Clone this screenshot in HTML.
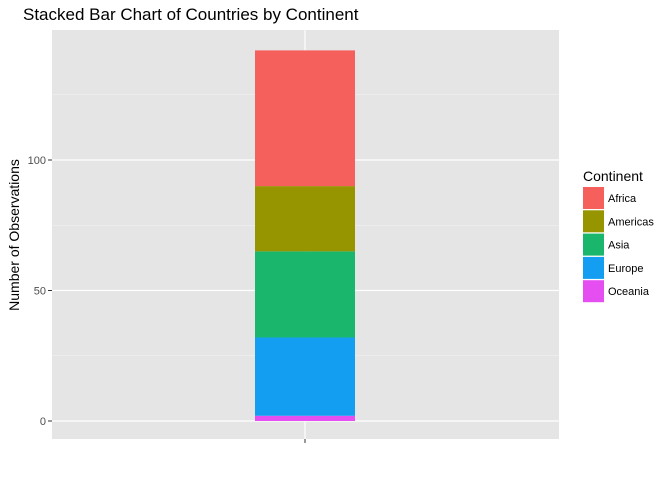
<!DOCTYPE html>
<html><head><meta charset="utf-8"><style>
body{margin:0;background:#fff;font-family:"Liberation Sans",sans-serif;}
</style></head><body>
<svg id="c" width="672" height="480" xmlns="http://www.w3.org/2000/svg" font-family="Liberation Sans, sans-serif">
<text x="23" y="20" font-size="17" fill="#000">Stacked Bar Chart of Countries by Continent</text>
<rect x="52" y="30" width="507" height="409" fill="#e5e5e5"/>
<g id="grid"></g>
<g id="bars"></g>
<g id="axes"></g>
<text transform="translate(19,235) rotate(-90)" text-anchor="middle" font-size="14">Number of Observations</text>
<text x="583" y="181" font-size="14">Continent</text>
<g id="legend"></g>
</svg>
<script>
const categories=["Oceania","Europe","Asia","Americas","Africa"];
const counts=[2,30,33,25,52];
const colors=["#e54ff2","#149ef2","#1ab66c","#969500","#f5605d"];
const yTicks=[0,50,100];
const legendOrder=["Africa","Americas","Asia","Europe","Oceania"];
const legendColors=["#f5605d","#969500","#1ab66c","#149ef2","#e54ff2"];
const NS="http://www.w3.org/2000/svg";
const y=v=>421-v*2.61;
const x0=52,x1=559;
function mk(t,a,p){const e=document.createElementNS(NS,t);for(const k in a)e.setAttribute(k,a[k]);p.appendChild(e);return e;}
const grid=document.getElementById('grid'),axes=document.getElementById('axes');
for(let v=25;v<150;v+=50){const g=mk('line',{x1:x0,x2:x1,y1:y(v),y2:y(v),stroke:'#f2f2f2','stroke-width':0.6},grid);

}
yTicks.forEach(v=>{const g=mk('line',{x1:x0,x2:x1,y1:y(v),y2:y(v),stroke:'#fff','stroke-width':1.2},grid);


const t=mk('line',{x1:x0-4,x2:x0,y1:y(v),y2:y(v),stroke:'#333'},axes);


const l=mk('text',{x:x0-6,y:y(v)+4,'text-anchor':'end','font-size':11,fill:'#4d4d4d'},axes);l.textContent=v;

});
const vg=mk('line',{x1:305,x2:305,y1:30,y2:439,stroke:'#fff','stroke-width':1.2},grid);


const xt=mk('line',{x1:305,x2:305,y1:439,y2:443,stroke:'#333'},axes);


const bars=document.getElementById('bars');let cum=0;
counts.forEach((c,i)=>{const r=mk('rect',{x:255,width:100,y:y(cum+c),height:y(cum)-y(cum+c),fill:colors[i]},bars);

cum+=c;});
const lg=document.getElementById('legend');
legendOrder.forEach((n,i)=>{const yy=187+i*23.3;
const r=mk('rect',{x:583,y:yy,width:21,height:22,fill:legendColors[i]},lg);


const t=mk('text',{x:608,y:yy+15,'font-size':11,fill:'#000'},lg);t.textContent=n;

});
</script>
</body></html>
